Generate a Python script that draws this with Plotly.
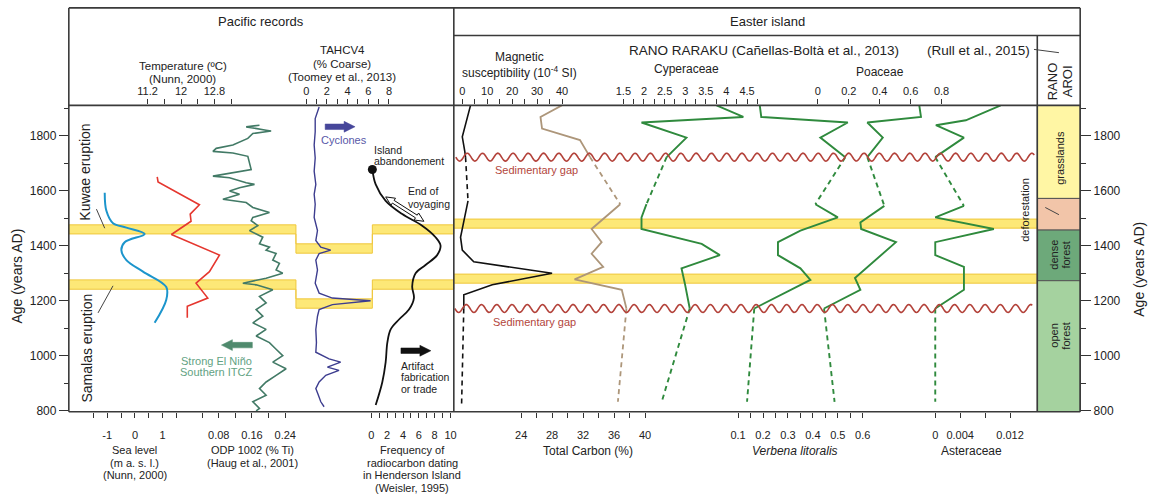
import numpy as np
import plotly.graph_objects as go

W, H = 1151, 499
FONT = "Liberation Sans, Arial, sans-serif"

# ---------------- data ----------------
age_ticks = [800, 1000, 1200, 1400, 1600, 1800]
age_range = [797, 1910]

# Pacific records
sea_age = [1593, 1527, 1482, 1466, 1443, 1413, 1384, 1348, 1306, 1250, 1204, 1120]
sea_level = [-1.09, -1.03, -0.79, -0.31, 0.35, -0.37, -0.49, -0.31, 0.29, 1.13, 1.13, 0.71]

temp_age = [1650, 1632, 1549, 1515, 1489, 1441, 1366, 1306, 1264, 1210, 1180, 1138]
temperature = [11.43, 11.45, 12.44, 12.22, 12.24, 11.77, 12.92, 12.68, 12.36, 12.64, 12.15, 12.15]

odp_age = [1838, 1832, 1820, 1817, 1808, 1790, 1766, 1754, 1743, 1737,
           1725, 1695, 1677, 1653, 1647, 1629, 1623, 1611, 1599, 1587,
           1569, 1557, 1539, 1521, 1503, 1491, 1473, 1455, 1431, 1407,
           1395, 1384, 1372, 1348, 1336, 1312, 1300, 1282, 1264, 1258,
           1240, 1216, 1192, 1168, 1144, 1120, 1096, 1072, 1048, 1024,
           1001, 977, 953, 929, 905, 881, 857, 833, 809, 800]
odp_ti = [0.178, 0.146, 0.194, 0.206, 0.162, 0.150, 0.114, 0.074, 0.066, 0.114,
          0.150, 0.154, 0.158, 0.066, 0.106, 0.146, 0.166, 0.130, 0.106, 0.130,
          0.090, 0.146, 0.162, 0.202, 0.162, 0.158, 0.174, 0.154, 0.186, 0.178,
          0.202, 0.194, 0.218, 0.210, 0.226, 0.218, 0.234, 0.194, 0.138, 0.170,
          0.210, 0.178, 0.194, 0.170, 0.186, 0.162, 0.194, 0.170, 0.202, 0.218,
          0.234, 0.210, 0.242, 0.218, 0.194, 0.178, 0.194, 0.162, 0.178, 0.170]

tahc_age = [1904, 1886, 1862, 1814, 1766, 1719, 1671, 1623, 1587, 1551,
            1503, 1455, 1419, 1395, 1384, 1372, 1348, 1312, 1264, 1228,
            1210, 1200, 1186, 1168, 1144, 1096, 1048, 1013, 989, 977,
            959, 947, 929, 905, 881, 857, 833, 815]
tahc_coarse = [1.25, 1.09, 0.87, 0.87, 0.77, 0.87, 0.77, 0.93, 0.77, 0.87,
               0.77, 1.09, 0.93, 1.41, 2.37, 1.25, 0.93, 1.09, 0.87, 1.25,
               2.53, 6.22, 2.53, 1.25, 1.09, 0.93, 0.99, 0.93, 2.21, 3.33,
               2.05, 3.17, 1.89, 1.25, 0.93, 1.18, 1.41, 1.73]

hend_age = [1677, 1623, 1563, 1515, 1473, 1431, 1401, 1366, 1330, 1300,
            1252, 1210, 1168, 1132, 1096, 1048, 977, 905, 821]
hend_freq = [0.13, 0.55, 1.81, 3.90, 6.42, 8.11, 8.74, 8.31, 6.84, 5.59,
             5.16, 5.38, 4.75, 3.49, 2.44, 2.02, 1.81, 1.39, 0.55]

# Easter island (Rano Raraku) - top segment / middle segment / bottom (dashed) end
mag_age_top = [1910, 1814, 1796, 1743, 1722]
mag_top = [3.3, 0.6, 0.0, 1.0, 1.3]
mag_age_mid = [1563, 1467, 1431, 1384, 1342, 1300, 1258, 1222, 1172]
mag_mid = [2.3, 0.0, -0.7, 0.0, 4.6, 36.0, 12.0, 0.6, 0.6]
mag_age_bot = [815]
mag_bot = [-0.3]

tc_age_top = [1910, 1868, 1826, 1784, 1722]
tc_top = [29.25, 26.5, 26.7, 31.6, 32.9]
tc_age_mid = [1551, 1461, 1413, 1371, 1323, 1278, 1240, 1172]
tc_mid = [36.8, 33.1, 34.4, 33.1, 34.6, 30.9, 37.0, 37.6]
tc_age_bot = [833]
tc_bot = [36.5]

cyp_age_top = [1910, 1868, 1848, 1793, 1722]
cyp_top = [3.76, 4.41, 1.94, 3.03, 2.55]
cyp_age_mid = [1551, 1503, 1461, 1407, 1366, 1318, 1264, 1172]
cyp_mid = [2.06, 1.94, 1.94, 3.40, 3.84, 2.91, 2.99, 3.11]
cyp_age_bot = [833]
cyp_bot = [2.43]

verb_age_top = [1910, 1868, 1848, 1793, 1722]
verb_top = [0.187, 0.193, 0.54, 0.43, 0.53]
verb_age_mid = [1551, 1503, 1455, 1413, 1366, 1318, 1276, 1172]
verb_mid = [0.41, 0.50, 0.35, 0.26, 0.26, 0.35, 0.39, 0.165]
verb_age_bot = [833]
verb_bot = [0.136]

poa_age_top = [1910, 1868, 1848, 1793, 1722]
poa_top = [0.656, 0.667, 0.32, 0.42, 0.32]
poa_age_mid = [1545, 1485, 1461, 1413, 1283, 1240, 1172]
poa_mid = [0.43, 0.275, 0.28, 0.505, 0.24, 0.275, 0.04]
poa_age_bot = [833]
poa_bot = [0.108]

ast_age_top = [1910, 1856, 1838, 1793, 1722]
ast_top = [0.0105, 0.0049, 0.0001, 0.0046, 0.0]
ast_age_mid = [1545, 1503, 1461, 1413, 1366, 1323, 1240, 1172]
ast_mid = [0.0046, 0.0, 0.0094, 0.0, 0.0, 0.0046, 0.0046, 0.0]
ast_age_bot = [833]
ast_bot = [0.0]

# eruption bands (years AD)
kuwae_band = [1443, 1476]
kuwae_band_step = [1373, 1407]
kuwae_band_easter = [1464, 1497]
samalas_band = [1242, 1276]
samalas_band_step = [1173, 1207]
samalas_band_easter = [1264, 1297]

gap_ages = [1722, 1172]

# Rano Aroi vegetation zones
zone_names = ["grasslands", "deforestation", "dense forest", "open forest"]
zone_top = [1910, 1572, 1457, 1273]
zone_bottom = [1572, 1457, 1273, 797]

# tick values / labels
sea_ticks = [-1.5, -1, -0.5, 0, 0.5, 1, 1.5]
sea_labels = ["", "-1", "", "0", "", "1", ""]
temp_ticks = [11.2, 11.6, 12.0, 12.4, 12.8, 13.2]
temp_labels = ["11.2", "", "12", "", "12.8", ""]
odp_ticks = [0.04, 0.08, 0.12, 0.16, 0.20, 0.24]
odp_labels = ["", "0.08", "", "0.16", "", "0.24"]
tahc_ticks = [0, 1, 2, 3, 4, 5, 6, 7, 8]
tahc_labels = ["0", "", "2", "", "4", "", "6", "", "8"]
hend_ticks = [0, 1, 2, 3, 4, 5, 6, 7, 8, 9, 10]
hend_labels = ["0", "", "2", "", "4", "", "6", "", "8", "", "10"]
mag_ticks = [0, 5, 10, 15, 20, 25, 30, 35, 40]
mag_labels = ["0", "", "10", "", "20", "", "30", "", "40"]
tc_ticks = [24, 26, 28, 30, 32, 34, 36, 38, 40]
tc_labels = ["24", "", "28", "", "32", "", "36", "", "40"]
cyp_ticks = [1.5, 1.75, 2, 2.25, 2.5, 2.75, 3, 3.25, 3.5, 3.75, 4, 4.25, 4.5, 4.75]
cyp_labels = ["1.5", "", "2", "", "2.5", "", "3", "", "3.5", "", "4", "", "4.5", ""]
verb_ticks = [0.1, 0.15, 0.2, 0.25, 0.3, 0.35, 0.4, 0.45, 0.5, 0.55, 0.6]
verb_labels = ["0.1", "", "0.2", "", "0.3", "", "0.4", "", "0.5", "", "0.6"]
poa_ticks = [0, 0.2, 0.4, 0.6, 0.8]
poa_labels = ["0", "0.2", "0.4", "0.6", "0.8"]
ast_ticks = [0, 0.004, 0.008, 0.012]
ast_labels = ["0", "0.004", "", "0.012"]

# ---------------- layout geometry (pixels) ----------------
LEFT, MID, RR, RIGHT = 69, 455, 1040, 1083
TOP, HDR, PTOP, PBOT = 8, 36, 106.7, 416.7
PAC = (LEFT, MID)
EAS = (MID, RR)


def fx(x):
    return x / W


def fy(y):
    return 1 - y / H


YRS_PER_PX = (age_range[1] - age_range[0]) / (PBOT - PTOP)

fig = go.Figure()

layout = dict(
    width=W, height=H, margin=dict(l=0, r=0, t=0, b=0),
    paper_bgcolor="white", plot_bgcolor="rgba(0,0,0,0)",
    showlegend=False, font=dict(family=FONT, color="#222"),
)


def xaxis_cfg(v0, p0, v1, p1, panel, side, tv, tt):
    s = (p1 - p0) / (v1 - v0)
    lo = v0 + (panel[0] - p0) / s
    hi = v0 + (panel[1] - p0) / s
    cfg = dict(domain=[fx(panel[0]), fx(panel[1])], range=[lo, hi], anchor="y", side=side,
               showgrid=False, zeroline=False, showline=False, ticks="outside", ticklen=5,
               tickwidth=1, tickcolor="#333", tickmode="array", tickvals=tv, ticktext=tt,
               tickfont=dict(size=11, color="#222", family=FONT), fixedrange=True)
    if side == "bottom":
        cfg["ticklabelstandoff"] = 8
    return cfg


axes = {
    "x": xaxis_cfg(-1, 107.5, 1, 163.1, PAC, "bottom", sea_ticks, sea_labels),
    "x2": xaxis_cfg(11.2, 148, 12.8, 215, PAC, "top", temp_ticks, temp_labels),
    "x3": xaxis_cfg(0.08, 219.3, 0.24, 286, PAC, "bottom", odp_ticks, odp_labels),
    "x4": xaxis_cfg(0, 307, 8, 390, PAC, "top", tahc_ticks, tahc_labels),
    "x5": xaxis_cfg(0, 372.3, 10, 451.7, PAC, "bottom", hend_ticks, hend_labels),
    "x6": xaxis_cfg(0, 463.5, 40, 563.5, EAS, "top", mag_ticks, mag_labels),
    "x7": xaxis_cfg(24, 522.5, 40, 646.7, EAS, "bottom", tc_ticks, tc_labels),
    "x8": xaxis_cfg(1.5, 625, 4.5, 749, EAS, "top", cyp_ticks, cyp_labels),
    "x9": xaxis_cfg(0.1, 740, 0.6, 865, EAS, "bottom", verb_ticks, verb_labels),
    "x10": xaxis_cfg(0, 820, 0.8, 944, EAS, "top", poa_ticks, poa_labels),
    "x11": xaxis_cfg(0, 937.7, 0.012, 1012.7, EAS, "bottom", ast_ticks, ast_labels),
}
for k, v in axes.items():
    layout["xaxis" + k[1:]] = v

ycommon = dict(range=age_range, tickmode="array", tickvals=age_ticks, ticks="outside", ticklen=10,
               tickwidth=1, tickcolor="#333", showgrid=False, zeroline=False, showline=False,
               minor=dict(dtick=100, tick0=0, ticks="outside", ticklen=5, tickcolor="#333", tickwidth=1),
               tickfont=dict(size=12, color="#222", family=FONT), fixedrange=True)
layout["yaxis"] = dict(domain=[fy(PBOT), fy(PTOP)], anchor="free", position=fx(LEFT), side="left", **ycommon)
layout["yaxis2"] = dict(overlaying="y", anchor="free", position=fx(RIGHT), side="right", **ycommon)


def add_line(axis, ages, vals, color, width=1.8, dash=None, shape="linear"):
    fig.add_trace(go.Scatter(x=vals, y=ages, xaxis=axis, yaxis="y", mode="lines",
                             line=dict(color=color, width=width, dash=dash, shape=shape),
                             hoverinfo="skip", showlegend=False))


# Pacific curves
add_line("x", sea_age, sea_level, "#1c95cc", 2.0, shape="spline")
add_line("x2", temp_age, temperature, "#e5372f", 1.6)
add_line("x3", odp_age, odp_ti, "#427a66", 1.6)
add_line("x4", tahc_age, tahc_coarse, "#3d3d8f", 1.4)
add_line("x5", hend_age, hend_freq, "#111111", 1.8, shape="spline")
fig.add_trace(go.Scatter(x=[hend_freq[0]], y=[hend_age[0]], xaxis="x5", yaxis="y", mode="markers",
                         marker=dict(color="#111", size=9), hoverinfo="skip", showlegend=False))

DASH = "5px,4px"


def easter(axis, ta, tv, ma, mv, ba, bv, color, width=1.8):
    add_line(axis, ta, tv, color, width)
    add_line(axis, ma, mv, color, width)
    add_line(axis, [ta[-1], ma[0]], [tv[-1], mv[0]], color, width, DASH)
    add_line(axis, [ma[-1]] + ba, [mv[-1]] + bv, color, width, DASH)


GREEN = "#2f8a3d"
easter("x6", mag_age_top, mag_top, mag_age_mid, mag_mid, mag_age_bot, mag_bot, "#111111", 1.6)
easter("x7", tc_age_top, tc_top, tc_age_mid, tc_mid, tc_age_bot, tc_bot, "#ad967a", 1.8)
easter("x8", cyp_age_top, cyp_top, cyp_age_mid, cyp_mid, cyp_age_bot, cyp_bot, GREEN, 1.9)
easter("x9", verb_age_top, verb_top, verb_age_mid, verb_mid, verb_age_bot, verb_bot, GREEN, 1.9)
easter("x10", poa_age_top, poa_top, poa_age_mid, poa_mid, poa_age_bot, poa_bot, GREEN, 1.9)
easter("x11", ast_age_top, ast_top, ast_age_mid, ast_mid, ast_age_bot, ast_bot, GREEN, 1.9)

# dummy trace for right axis
fig.add_trace(go.Scatter(x=[0], y=[1000], xaxis="x", yaxis="y2", mode="markers",
                         marker=dict(opacity=0), hoverinfo="skip", showlegend=False))

shapes = []
BAND_FILL = "rgba(253,228,95,0.85)"
BAND_LINE = "#efc73c"

# Pacific stepped bands
X_STEP1, X_STEP2 = 296.7, 373.3
for main, step in [(kuwae_band, kuwae_band_step), (samalas_band, samalas_band_step)]:
    lo, hi = main
    slo, shi = step
    pts = [(LEFT, hi), (X_STEP1, hi), (X_STEP1, shi), (X_STEP2, shi), (X_STEP2, hi), (MID, hi),
           (MID, lo), (X_STEP2, lo), (X_STEP2, slo), (X_STEP1, slo), (X_STEP1, lo), (LEFT, lo)]
    path = "M " + " L ".join(f"{fx(a):.5f},{b}" for a, b in pts) + " Z"
    shapes.append(dict(type="path", path=path, xref="paper", yref="y", layer="below",
                       fillcolor=BAND_FILL, line=dict(color=BAND_LINE, width=1)))
for lo, hi in [kuwae_band_easter, samalas_band_easter]:
    shapes.append(dict(type="rect", x0=fx(MID), x1=fx(RR), y0=lo, y1=hi, xref="paper", yref="y",
                       layer="below", fillcolor=BAND_FILL, line=dict(color=BAND_LINE, width=1)))

# Rano Aroi zones
zone_colors = ["#fff6a4", "#f2c5a9", "#6da97a", "#a5d29f"]
for t, b, c in zip(zone_top, zone_bottom, zone_colors):
    shapes.append(dict(type="rect", x0=fx(RR), x1=fx(RIGHT), y0=b, y1=t, xref="paper", yref="y",
                       layer="below", fillcolor=c, line=dict(color="#555", width=1)))

# sedimentary gaps (wavy lines)
for g, (x0, x1) in zip(gap_ages, [(457, 1037), (456, 1035)]):
    xs = np.arange(x0, x1 + 0.1, 1.0)
    ys = g - 4.0 * np.sin(2 * np.pi * (xs - x0) / 15.3) * YRS_PER_PX
    path = "M " + " L ".join(f"{fx(a):.5f},{b:.2f}" for a, b in zip(xs, ys))
    shapes.append(dict(type="path", path=path, xref="paper", yref="y", layer="above",
                       line=dict(color="#b3423a", width=1.6)))

# frame lines
FRAME = "#3a3a3a"
for (x0, y0, x1, y1) in [(LEFT, TOP, RIGHT, TOP), (MID, HDR, RIGHT, HDR), (LEFT, PTOP, RIGHT, PTOP),
                         (LEFT, PBOT, RIGHT, PBOT), (LEFT, TOP, LEFT, PBOT), (MID, TOP, MID, PBOT),
                         (RR, HDR, RR, PBOT), (RIGHT, TOP, RIGHT, PBOT)]:
    shapes.append(dict(type="line", x0=fx(x0), x1=fx(x1), y0=fy(y0), y1=fy(y1), xref="paper",
                       yref="paper", layer="above", line=dict(color=FRAME, width=1.6)))

# leader lines
for (x0, y0, x1, y1) in [(96.7, 211.7, 105, 231), (113.3, 289.3, 98.3, 316.7),
                         (1036.7, 50, 1061.7, 53.3), (1048, 210, 1061.7, 217.3)]:
    shapes.append(dict(type="line", x0=fx(x0), x1=fx(x1), y0=fy(y0), y1=fy(y1), xref="paper",
                       yref="paper", layer="above", line=dict(color="#444", width=1)))


def arrow_path(x0, y0, x1, y1, sw, hw, hl, double=False):
    d = np.array([x1 - x0, y1 - y0], float)
    L = np.hypot(*d)
    u = d / L
    n = np.array([-u[1], u[0]])
    p0 = np.array([x0, y0], float)
    if double:
        loc = [(0, 0), (hl, hw), (hl, sw), (L - hl, sw), (L - hl, hw), (L, 0),
               (L - hl, -hw), (L - hl, -sw), (hl, -sw), (hl, -hw)]
    else:
        loc = [(0, sw), (L - hl, sw), (L - hl, hw), (L, 0), (L - hl, -hw), (L - hl, -sw), (0, -sw)]
    pts = [p0 + a * u + b * n for a, b in loc]
    return "M " + " L ".join(f"{fx(p[0]):.5f},{fy(p[1]):.5f}" for p in pts) + " Z"


for (x0, y0, x1, y1, col) in [(326, 128.3, 356, 128.3, "#46469a"), (253, 349.3, 222, 349.3, "#4f8a6d"),
                              (402, 355, 432, 355, "#111")]:
    shapes.append(dict(type="path", path=arrow_path(x0, y0, x1, y1, 2.8, 5.5, 11), xref="paper",
                       yref="paper", layer="above", fillcolor=col, line=dict(color=col, width=0.5)))
shapes.append(dict(type="path", path=arrow_path(386.7, 199.3, 425, 224, 1.6, 4.2, 9, double=True),
                   xref="paper", yref="paper", layer="above", fillcolor="white",
                   line=dict(color="#111", width=1)))

layout["shapes"] = shapes

ann = []


def txt(s, x, y, size=11, color="#222", angle=0, xanchor="center"):
    ann.append(dict(text=s, x=fx(x), y=fy(y), xref="paper", yref="paper", showarrow=False,
                    xanchor=xanchor, yanchor="middle", textangle=angle,
                    font=dict(size=size, color=color, family=FONT)))


# header
txt("Pacific records", 262, 22, 13)
txt("Easter island", 770, 22, 13)
txt("Temperature (ºC)", 183, 66.7, 11.5)
txt("(Nunn, 2000)", 183, 80, 11.5)
txt("TAHCV4", 343, 51, 11.5)
txt("(% Coarse)", 343, 64.5, 11.5)
txt("(Toomey et al., 2013)", 343, 77.7, 11.5)
txt("Magnetic", 521, 58, 12)
txt("susceptibility (10<sup>-4</sup> SI)", 521, 73, 12)
txt("RANO RARAKU (Cañellas-Boltà et al., 2013)", 766, 51, 13.5)
txt("(Rull et al., 2015)", 981, 51, 13.5)
txt("Cyperaceae", 688, 70, 12)
txt("Poaceae", 882, 73, 12)
txt("RANO", 1055, 82, 13, angle=-90)
txt("AROI", 1070, 82, 13, angle=-90)

# bottom titles
BT = 455.5
for i, s in enumerate(["Sea level", "(m a. s. l.)", "(Nunn, 2000)"]):
    txt(s, 135, BT + 12.7 * i, 11)
for i, s in enumerate(["ODP 1002 (% Ti)", "(Haug et al., 2001)"]):
    txt(s, 252.7, BT + 12.7 * i, 11)
for i, s in enumerate(["Frequency of", "radiocarbon dating", "in Henderson Island", "(Weisler, 1995)"]):
    txt(s, 413.3, BT + 12.7 * i, 11)
txt("Total Carbon (%)", 590, BT + 0.5, 12)
txt("<i>Verbena litoralis</i>", 797, BT + 1, 12)
txt("Asteraceae", 974, BT + 1, 12)

# axis titles
txt("Age (years AD)", 17, 279, 14, angle=-90)
txt("Age (years AD)", 1142, 273, 14, angle=-90)

# panel annotations
txt("Kuwae eruption", 85, 174, 14, angle=-90)
txt("Samalas eruption", 87, 352, 14, angle=-90)
txt("Cyclones", 345, 142, 11, color="#5858a8")
txt("Island", 373, 151.7, 10.5, xanchor="left")
txt("abandonement", 373, 163.3, 10.5, xanchor="left")
txt("End of", 407, 193.3, 10.5, xanchor="left")
txt("voyaging", 407, 206, 10.5, xanchor="left")
txt("Artifact", 400, 370, 10.5, xanchor="left")
txt("fabrication", 400, 381.7, 10.5, xanchor="left")
txt("or trade", 400, 393.3, 10.5, xanchor="left")
txt("Strong El Niño", 216.7, 365.7, 11, color="#62a283")
txt("Southern ITCZ", 216.7, 376.9, 11, color="#62a283")
txt("Sedimentary gap", 538, 172, 11, color="#b3463c")
txt("Sedimentary gap", 536, 326, 11, color="#b3463c")

# Rano Aroi zone labels
txt("grasslands", 1062.5, 160, 11, angle=-90)
txt("dense", 1056.5, 258, 11, angle=-90)
txt("forest", 1068.5, 258, 11, angle=-90)
txt("open", 1056.5, 340, 11, angle=-90)
txt("forest", 1068.5, 340, 11, angle=-90)
txt("deforestation", 1028, 212, 11, angle=-90)

layout["annotations"] = ann
fig.update_layout(**layout)

fig.write_html("out.html", config={"displayModeBar": False},
               post_script="document.body.style.margin='0';")
